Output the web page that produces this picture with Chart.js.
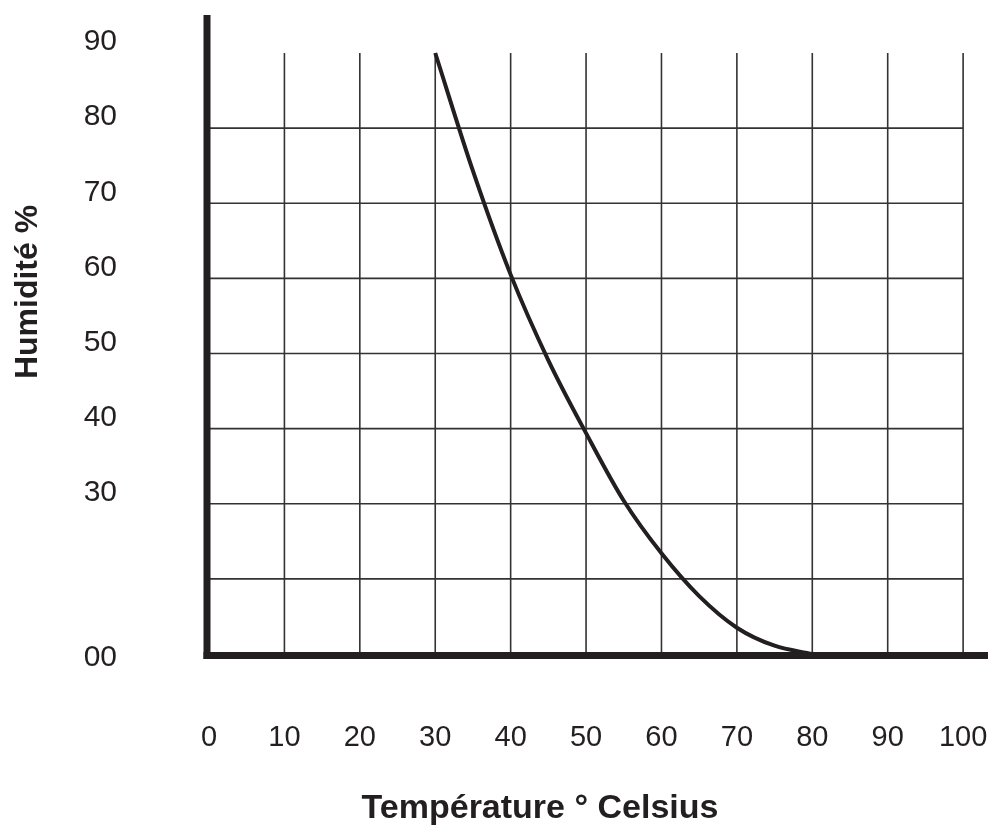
<!DOCTYPE html>
<html>
<head>
<meta charset="utf-8">
<script src="https://cdn.jsdelivr.net/npm/chart.js@4/dist/chart.umd.min.js"></script>
<style>
  html, body { margin: 0; padding: 0; background: #fff; }
  #wrap { width: 1003px; height: 827px; position: relative; }
</style>
</head>
<body>
<div id="wrap"><canvas id="c"></canvas></div>
<script>
// temperature (°C) vs humidity curve
const temps    = [30, 35, 40, 45, 50, 55, 60, 65, 70, 75, 80];
const humidity = [90, 74.3, 60.5, 49.1, 39.4, 30.4, 23.4, 17.7, 13.5, 11.1, 10];

const xTicks      = [0, 10, 20, 30, 40, 50, 60, 70, 80, 90, 100];
const yTicks      = [10, 20, 30, 40, 50, 60, 70, 80, 90];
const yTickLabels = ['00', '', '30', '40', '50', '60', '70', '80', '90'];
const yGridLines  = [20, 30, 40, 50, 60, 70, 80];

const xTitle = 'Température ° Celsius';
const yTitle = 'Humidité %';

const INK  = '#231f20';
const FONT = '"Liberation Sans", Arial, Helvetica, sans-serif';

// chart.js pads the plot for the edge tick labels; we want the area exact
const noEdgePadding = (s) => {
  s.paddingTop = 0; s.paddingBottom = 0;
  s.paddingLeft = 0; s.paddingRight = 0;
};

// thin grid: vertical lines stop at 90, horizontal ones at 100
const paperGrid = {
  id: 'paperGrid',
  beforeDatasetsDraw(chart) {
    const { ctx, scales: { x, y } } = chart;
    const yTop = y.getPixelForValue(90);
    const yBot = y.getPixelForValue(10);
    const xL = x.getPixelForValue(0);
    const xR = x.getPixelForValue(100);
    ctx.save();
    ctx.strokeStyle = '#333';
    ctx.lineWidth = 1.6;
    ctx.beginPath();
    xTicks.slice(1).forEach(v => {
      const px = x.getPixelForValue(v);
      ctx.moveTo(px, yTop);
      ctx.lineTo(px, yBot);
    });
    yGridLines.forEach(v => {
      const py = y.getPixelForValue(v);
      ctx.moveTo(xL, py);
      ctx.lineTo(xR, py);
    });
    ctx.stroke();
    ctx.restore();
  },
  afterDatasetsDraw(chart) {
    // heavy axes
    const { ctx, chartArea: a } = chart;
    ctx.save();
    ctx.fillStyle = INK;
    ctx.fillRect(a.left - 5.5, a.top, 7, a.bottom - a.top + 5);
    ctx.fillRect(a.left - 5.5, a.bottom - 2, a.right - a.left + 5.5, 7);
    ctx.restore();
  },
  afterDraw(chart) {
    const { ctx } = chart;
    ctx.save();
    ctx.fillStyle = INK;
    ctx.textAlign = 'center';
    ctx.textBaseline = 'middle';
    ctx.font = 'bold 34px ' + FONT;
    ctx.fillText(xTitle, 540, 809);
    ctx.translate(28, 292);
    ctx.rotate(-Math.PI / 2);
    ctx.font = 'bold 32px ' + FONT;
    ctx.fillText(yTitle, 0, 0);
    ctx.restore();
  },
};

new Chart(document.getElementById('c'), {
  type: 'line',
  data: {
    datasets: [{
      data: temps.map((t, i) => ({ x: t, y: humidity[i] })),
      borderColor: INK,
      borderWidth: 4,
      pointRadius: 0,
      fill: false,
      cubicInterpolationMode: 'monotone',
    }],
  },
  options: {
    animation: false,
    responsive: true,
    maintainAspectRatio: false,
    layout: { padding: { left: 0, right: 15, top: 15, bottom: 0 } },
    plugins: {
      legend: { display: false },
      tooltip: { enabled: false },
    },
    scales: {
      x: {
        type: 'linear',
        min: 0,
        max: 103.3,
        grid: { display: false, drawTicks: false },
        border: { display: false },
        afterBuildTicks: (s) => { s.ticks = xTicks.map(v => ({ value: v })); },
        afterFit: (s) => { s.height = 173; noEdgePadding(s); },
        ticks: {
          autoSkip: false,
          maxRotation: 0,
          padding: 67,
          color: INK,
          font: { family: FONT, size: 29 },
        },
      },
      y: {
        type: 'linear',
        min: 10,
        max: 95.06,
        grid: { display: false, drawTicks: false },
        border: { display: false },
        afterBuildTicks: (s) => { s.ticks = yTicks.map(v => ({ value: v })); },
        afterFit: (s) => { s.width = 209; noEdgePadding(s); },
        ticks: {
          autoSkip: false,
          padding: 92,
          labelOffset: -11,
          color: INK,
          font: { family: FONT, size: 30, lineHeight: 1 },
          callback: (v) => {
            const lbl = yTickLabels[yTicks.indexOf(v)];
            return lbl === '00' ? ['', lbl] : lbl;
          },
        },
      },
    },
  },
  plugins: [paperGrid],
});
</script>
</body>
</html>
